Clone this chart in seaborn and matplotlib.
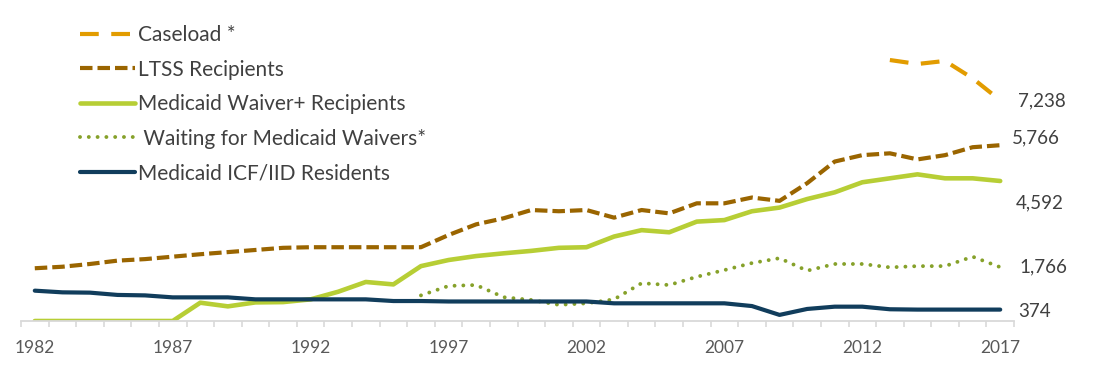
import matplotlib
matplotlib.use("Agg")
import matplotlib.pyplot as plt
import seaborn as sns
import numpy as np
import pandas as pd

years = list(range(1982, 2018))
caseload = [np.nan] * 31 + [8560, 8430, 8530, 7960, 7238]
ltss = [1730, 1780, 1870, 1980, 2030, 2110, 2190, 2260, 2330, 2400, 2420, 2420,
        2420, 2420, 2420, 2820, 3170, 3370, 3640, 3600, 3640, 3390, 3640, 3530,
        3860, 3860, 4050, 3940, 4520, 5230, 5440, 5500, 5300, 5440, 5700, 5766]
waiver = [0, 0, 0, 0, 0, 0, 600, 480, 610, 620, 710, 960, 1280, 1200, 1800, 2000,
          2130, 2220, 2300, 2400, 2420, 2770, 2980, 2910, 3260, 3310, 3600, 3720,
          4000, 4220, 4550, 4680, 4810, 4680, 4680, 4592]
waiting = [np.nan] * 14 + [840, 1150, 1180, 780, 690, 530, 580, 710, 1240, 1180,
                           1450, 1670, 1900, 2060, 1650, 1870, 1870, 1760, 1800,
                           1800, 2110, 1766]
icf = [995, 940, 930, 855, 840, 775, 775, 775, 710, 710, 710, 710, 710, 655, 655,
       640, 640, 640, 640, 640, 640, 580, 580, 580, 580, 580, 490, 200, 395, 470,
       470, 385, 374, 374, 374, 374]

series_names = ["Caseload *", "LTSS Recipients", "Medicaid Waiver+ Recipients",
                " Waiting for Medicaid Waivers*", "Medicaid ICF/IID Residents"]
end_labels = ["7,238", "5,766", "4,592", "1,766", "374"]
tick_years = list(range(1982, 2018, 5))

colors = ["#E29C00", "#9A6500", "#B7CE35", "#86A12A", "#113D5C"]
styles = [(0, (4.5, 3.0)), (0, (3.0, 1.2)), "-", (0, (0.01, 2.25)), "-"]
widths = [3.0, 3.0, 3.3, 2.8, 3.0]
# label offsets in pixels (dx, dy) from last point
offsets = [(18, -1), (12, 7), (16, -22), (19, 0), (18, -2)]

sns.set_theme(style="white")
plt.rcParams["font.family"] = ["Lato", "DejaVu Sans"]

W, H = 1112, 365
fig = plt.figure(figsize=(W / 100, H / 100), dpi=100)
ax_left, ax_right, ax_bottom = 21, 1014, 321
ax = fig.add_axes([ax_left / W, (H - ax_bottom) / H, (ax_right - ax_left) / W, ax_bottom / H])

data = [caseload, ltss, waiver, waiting, icf]
handles = []
for name, vals, c, ls, lw in zip(series_names, data, colors, styles, widths):
    df = pd.DataFrame({"year": years, "value": vals})
    sns.lineplot(data=df, x="year", y="value", ax=ax, color=c, linewidth=lw,
                 label=name, legend=False)
    ln = ax.lines[-1]
    ln.set_linestyle(ls)
    ln.set_dash_capstyle("round" if ls == (0, (0.01, 2.25)) else "butt")
    ln.set_solid_capstyle("round")
    handles.append(ln)

ax.set_xlim(1981.5, 2017.5)
ax.set_ylim(0, 321 * 32.8)
ax.set_xlabel("")
ax.set_ylabel("")
ax.set_yticks([])
ax.set_xticks(tick_years)
ax.set_xticklabels([str(y) for y in tick_years])
ax.set_xticks(np.arange(1981.5, 2018.0, 1.0), minor=True)
ax.tick_params(axis="x", which="major", length=0, pad=14, labelsize=12.5, labelcolor="#595959")
ax.tick_params(axis="x", which="minor", length=4, width=1.2, color="#D9D9D9", bottom=True)
for s in ["top", "right", "left"]:
    ax.spines[s].set_visible(False)
ax.spines["bottom"].set_color("#D9D9D9")
ax.spines["bottom"].set_linewidth(1.3)
ax.patch.set_alpha(0)

for vals, lab, (dx, dy) in zip(data, end_labels, offsets):
    ax.annotate(lab, xy=(years[-1], vals[-1]), xytext=(dx * 0.72, dy * 0.72),
                textcoords="offset points", ha="left", va="center",
                fontsize=13.5, color="#404040")

leg = fig.legend(handles=handles, labels=series_names, loc="upper left",
                 bbox_to_anchor=(80 / W, 1 - 25 / H), frameon=False,
                 fontsize=15, handlelength=2.64, handletextpad=0.15,
                 labelspacing=0.7, borderpad=0, borderaxespad=0)
for t in leg.get_texts():
    t.set_color("#404040")

fig.savefig("out.png", dpi=100)
